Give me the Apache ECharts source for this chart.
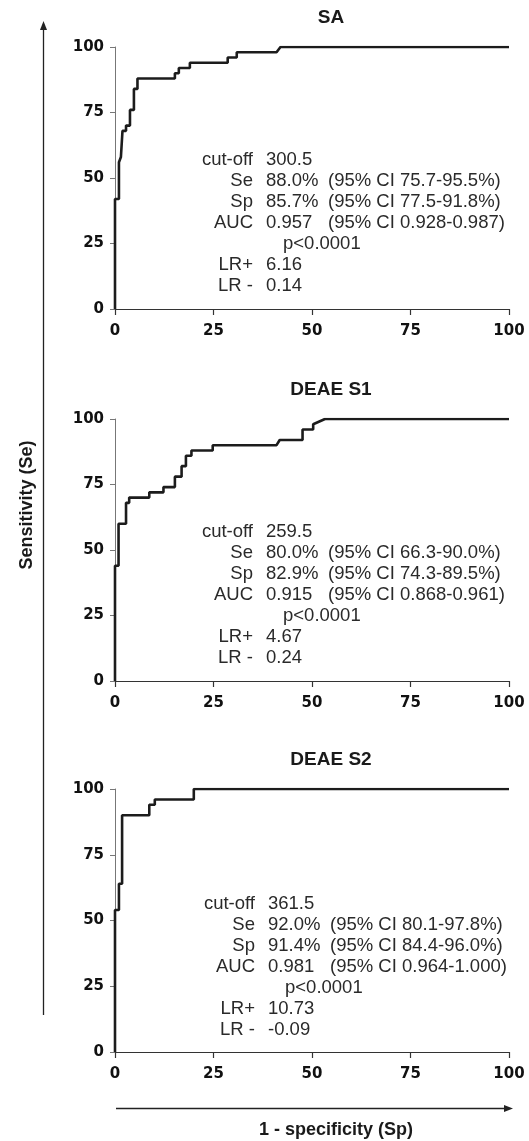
<!DOCTYPE html>
<html>
<head>
<meta charset="utf-8">
<script src="https://cdn.jsdelivr.net/npm/echarts@6/dist/echarts.min.js"></script>
<style>
html,body{margin:0;padding:0;background:#fff;}
#c{width:529px;height:1141px;}
</style>
</head>
<body>
<div id="c"></div>
<script>
// ---- data ----
const panelTitles = ['SA', 'DEAE S1', 'DEAE S2'];
const xTicks = [0, 25, 50, 75, 100];
const yTicks = [0, 25, 50, 75, 100];
// ROC curves: [1 - specificity (%), sensitivity (%)]
const rocSA = [[0,0],[0,42],[1.0,42],[1.0,56],[1.5,56],[1.5,58],[1.9,58],[1.9,68],[2.8,68],[2.8,70],[3.8,70],[3.8,76],[4.8,76],[4.8,84],[5.7,84],[5.7,88],[15.2,88],[15.2,90],[16.2,90],[16.2,92],[19.0,92],[19.0,94],[28.6,94],[28.6,96],[30.9,96],[30.9,98],[41.0,98],[42.0,100],[100,100]];
const rocS1 = [[0,0],[0,44],[0.9,44],[0.9,60],[2.8,60],[2.8,68],[3.6,68],[3.6,70],[8.7,70],[8.7,72],[12.3,72],[12.3,74],[15.2,74],[15.2,78],[16.9,78],[16.9,82],[18.0,82],[18.0,86],[19.4,86],[19.4,88],[24.8,88],[24.8,90],[41.0,90],[41.8,92],[47.6,92],[47.6,96],[50.3,96],[50.3,98],[53.3,100],[100,100]];
const rocS2 = [[0,0],[0,54],[1.0,54],[1.0,64],[1.8,64],[1.8,90],[8.7,90],[8.7,94],[10.1,94],[10.1,96],[20.0,96],[20.0,100],[100,100]];
const statLabels = ['cut-off', 'Se', 'Sp', 'AUC', '', 'LR+', 'LR -'];
const saValues = ['300.5', '88.0%', '85.7%', '0.957', '', '6.16', '0.14'];
const saCI = ['', '(95% CI 75.7-95.5%)', '(95% CI 77.5-91.8%)', '(95% CI 0.928-0.987)', '', '', ''];
const s1Values = ['259.5', '80.0%', '82.9%', '0.915', '', '4.67', '0.24'];
const s1CI = ['', '(95% CI 66.3-90.0%)', '(95% CI 74.3-89.5%)', '(95% CI 0.868-0.961)', '', '', ''];
const s2Values = ['361.5', '92.0%', '91.4%', '0.981', '', '10.73', '-0.09'];
const s2CI = ['', '(95% CI 80.1-97.8%)', '(95% CI 84.4-96.0%)', '(95% CI 0.964-1.000)', '', '', ''];
const pText = 'p<0.0001';
const xAxisTitle = '1 - specificity (Sp)';
const yAxisTitle = 'Sensitivity (Se)';

// ---- layout ----
const gridLeft = 115, gridWidth = 394;
const gridTops = [47, 419, 789];
const gridHeights = [262, 262, 263];
const titleY = [18, 390, 760];
const textShift = [0, 0, 2];
const curves = [rocSA, rocS1, rocS2];
const values = [saValues, s1Values, s2Values];
const cis = [saCI, s1CI, s2CI];

const chart = echarts.init(document.getElementById('c'), null, {renderer: 'canvas'});

const grids = [], xAxes = [], yAxes = [], series = [], graphics = [];
const labelFont = '"Liberation Sans", Arial, Helvetica, sans-serif';
const tickFont = '"DejaVu Sans", sans-serif';
for (let i = 0; i < 3; i++) {
  grids.push({left: gridLeft, top: gridTops[i], width: gridWidth, height: gridHeights[i], containLabel: false});
  xAxes.push({
    type: 'value', gridIndex: i, min: xTicks[0], max: xTicks[xTicks.length - 1], interval: xTicks[1] - xTicks[0],
    axisLine: {show: true, onZero: false, lineStyle: {color: '#333', width: 1.2}},
    axisTick: {show: true, length: 6, lineStyle: {color: '#333', width: 1.2}},
    axisLabel: {color: '#111', fontSize: 15, fontWeight: 'bold', fontFamily: tickFont, margin: 15},
    splitLine: {show: false}
  });
  yAxes.push({
    type: 'value', gridIndex: i, min: yTicks[0], max: yTicks[yTicks.length - 1], interval: yTicks[1] - yTicks[0],
    axisLine: {show: true, onZero: false, lineStyle: {color: '#777', width: 1}},
    axisTick: {show: true, length: 5, lineStyle: {color: '#777', width: 1}},
    axisLabel: {color: '#111', fontSize: 15, fontWeight: 'bold', fontFamily: tickFont, margin: 11},
    splitLine: {show: false}
  });
  series.push({
    type: 'line', xAxisIndex: i, yAxisIndex: i, data: curves[i], showSymbol: false, symbol: 'none',
    lineStyle: {color: '#1c1c1c', width: 2.6}, animation: false, silent: true, z: 5
  });
  graphics.push({
    type: 'text', x: 331, y: titleY[i],
    style: {text: panelTitles[i], font: 'bold 19px ' + labelFont, fill: '#1a1a1a', align: 'center', verticalAlign: 'middle', textAlign: 'center', textVerticalAlign: 'middle'}
  });
  const sx = textShift[i];
  for (let r = 0; r < statLabels.length; r++) {
    const y = gridTops[i] + 113 + 21 * r + (i === 2 ? 2 : 0);
    const font = '18.5px ' + labelFont;
    if (statLabels[r]) {
      graphics.push({type: 'text', x: 253 + sx, y: y,
        style: {text: statLabels[r], font: font, fill: '#2a2a2a', align: 'right', verticalAlign: 'middle', textAlign: 'right', textVerticalAlign: 'middle'}});
    }
    if (values[i][r]) {
      graphics.push({type: 'text', x: 266 + sx, y: y,
        style: {text: values[i][r], font: font, fill: '#2a2a2a', align: 'left', verticalAlign: 'middle', textAlign: 'left', textVerticalAlign: 'middle'}});
    }
    if (cis[i][r]) {
      graphics.push({type: 'text', x: 328 + sx, y: y,
        style: {text: cis[i][r], font: font, fill: '#2a2a2a', align: 'left', verticalAlign: 'middle', textAlign: 'left', textVerticalAlign: 'middle'}});
    }
    if (r === 4) {
      graphics.push({type: 'text', x: 283 + sx, y: y,
        style: {text: pText, font: font, fill: '#2a2a2a', align: 'left', verticalAlign: 'middle', textAlign: 'left', textVerticalAlign: 'middle'}});
    }
  }
}

// axis arrows and titles
graphics.push({type: 'line', shape: {x1: 43.5, y1: 1015, x2: 43.5, y2: 28}, style: {stroke: '#222', lineWidth: 1.3}});
graphics.push({type: 'polygon', shape: {points: [[43.5, 21], [40, 30], [47, 30]]}, style: {fill: '#222'}});
graphics.push({type: 'line', shape: {x1: 116, y1: 1108.5, x2: 505, y2: 1108.5}, style: {stroke: '#222', lineWidth: 1.3}});
graphics.push({type: 'polygon', shape: {points: [[513, 1108.5], [504, 1105], [504, 1112]]}, style: {fill: '#222'}});
graphics.push({type: 'text', x: 336, y: 1130,
  style: {text: xAxisTitle, font: 'bold 18px ' + labelFont, fill: '#1a1a1a', align: 'center', verticalAlign: 'middle', textAlign: 'center', textVerticalAlign: 'middle'}});
graphics.push({type: 'text', x: 27.5, y: 505, rotation: Math.PI / 2,
  style: {text: yAxisTitle, font: 'bold 18px ' + labelFont, fill: '#1a1a1a', align: 'center', verticalAlign: 'middle', textAlign: 'center', textVerticalAlign: 'middle'}});

chart.setOption({
  animation: false,
  backgroundColor: '#ffffff',
  grid: grids,
  xAxis: xAxes,
  yAxis: yAxes,
  series: series,
  graphic: {elements: graphics}
});
</script>
</body>
</html>
